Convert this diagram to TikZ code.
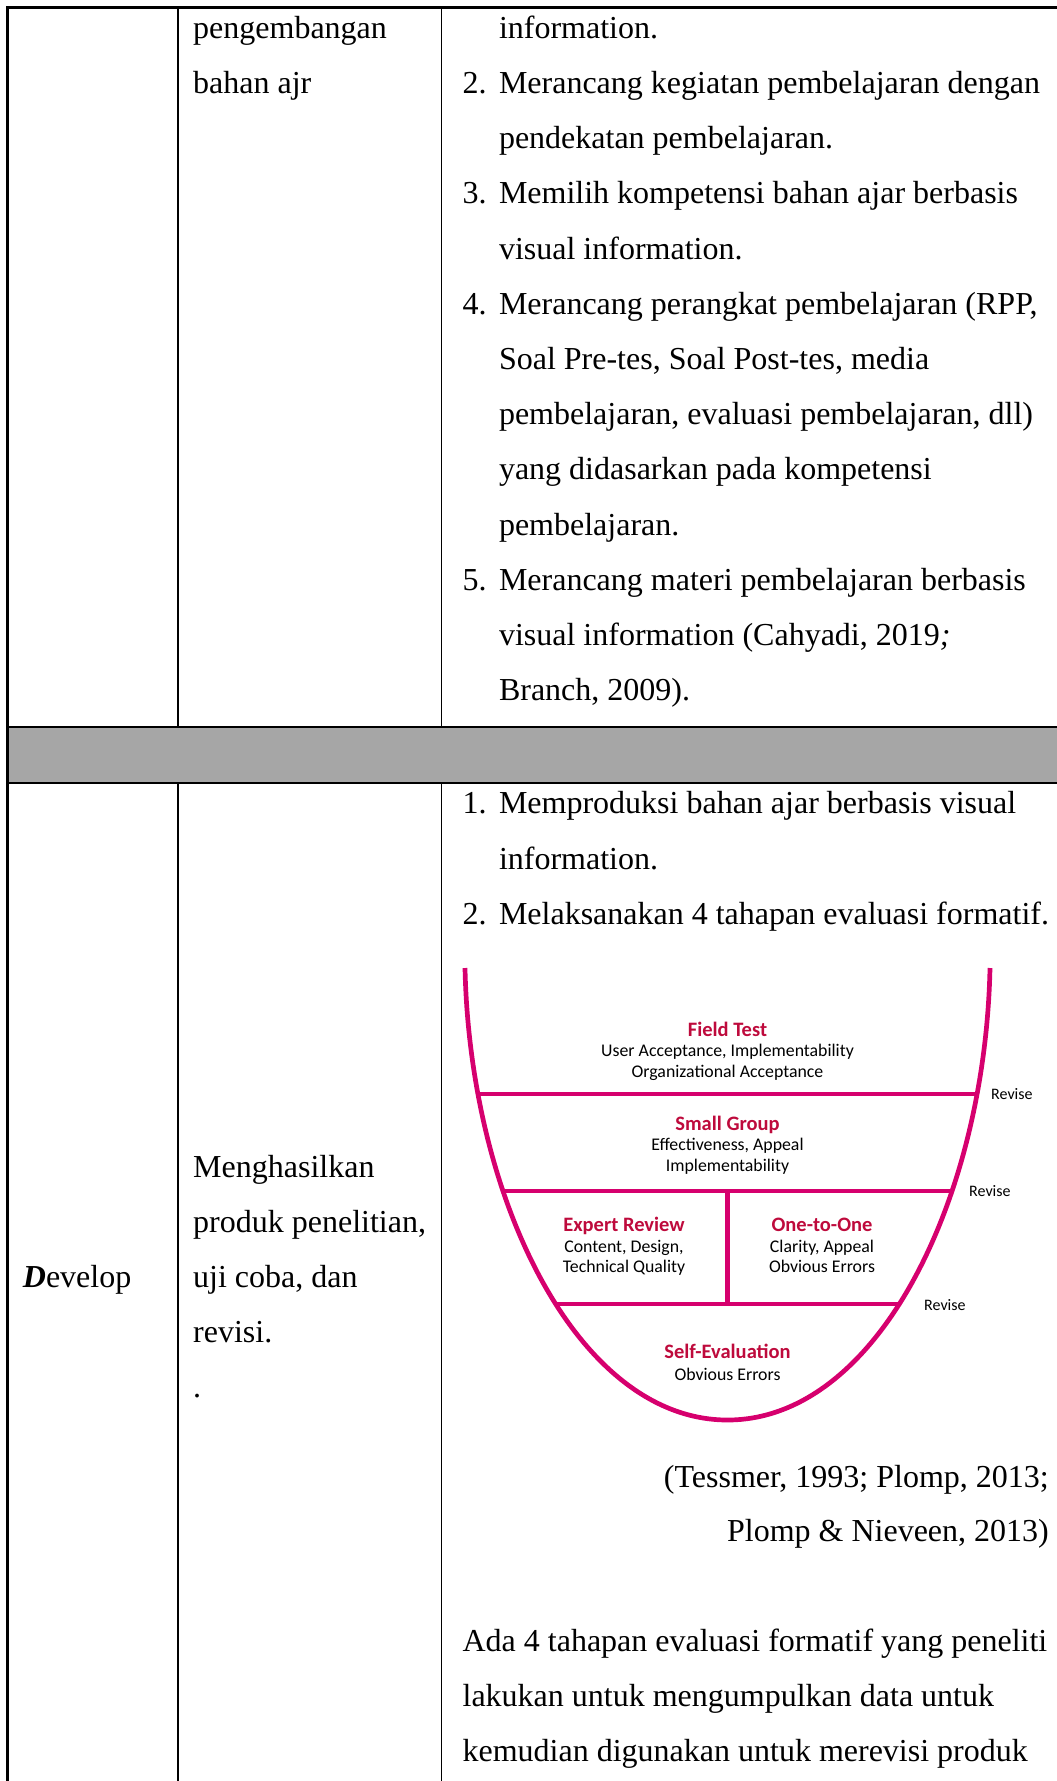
\documentclass[tikz,border=0pt]{standalone}
\usepackage{fontspec}
\setmainfont{Liberation Serif}
\newfontfamily\dfont{Carlito}
\definecolor{upink}{RGB}{214,0,110}
\definecolor{utitlec}{RGB}{190,10,60}
\definecolor{grayrow}{RGB}{166,166,166}
\begin{document}
\begin{tikzpicture}[x=1pt,y=-1pt,
  rule/.style={line width=2.4pt,black},
  coll/.style={line width=1.8pt,black},
  body/.style={anchor=base west,inner sep=0pt,font=\fontsize{32}{38}\selectfont},
  bodyr/.style={anchor=base east,inner sep=0pt,font=\fontsize{32}{38}\selectfont},
  utitle/.style={anchor=base,inner sep=0pt,text=utitlec,font=\dfont\bfseries\fontsize{20.5}{24}\selectfont},
  usub/.style={anchor=base,inner sep=0pt,font=\dfont\fontsize{17.8}{20}\selectfont},
  urev/.style={anchor=base west,inner sep=0pt,font=\dfont\fontsize{16}{19}\selectfont},
  uline/.style={line width=4.7pt,upink}]
\useasboundingbox (0,0) rectangle (1057,1781);
% table
\fill[grayrow] (7.5,727) rectangle (1057,783);
\draw[rule] (6.3,7.5) -- (1057,7.5);
\draw[rule] (7.5,7.5) -- (7.5,1781);
\draw[rule] (7.5,727) -- (1057,727);
\draw[rule] (7.5,783) -- (1057,783);
\draw[coll] (177.7,7.5) -- (177.7,727) (177.7,783) -- (177.7,1781);
\draw[coll] (441.5,7.5) -- (441.5,727) (441.5,783) -- (441.5,1781);
% column 2
\node[body] (c2a) at (193,38.3) {pengembangan};
\node[body] (c2b) at (193,93.5) {bahan ajr};
\node[body] (c2c) at (193,1177) {Menghasilkan};
\node[body] (c2d) at (193,1232.2) {produk penelitian,};
\node[body] (c2e) at (193,1287.4) {uji coba, dan};
\node[body] (c2f) at (193,1342.6) {revisi.};
\node[body] (c2g) at (193,1397.8) {.};
% column 1
\node[body] (dev) at (22.7,1287.4) {{\bfseries\itshape D}evelop};
% column 3 top
\node[body] (t0) at (498.8,38.3) {information.};
\node[body] (n2) at (462.4,93.5) {2.};
\node[body] (t1) at (498.8,93.5) {Merancang kegiatan pembelajaran dengan};
\node[body] (t2) at (498.8,148.7) {pendekatan pembelajaran.};
\node[body] (n3) at (462.4,203.9) {3.};
\node[body] (t3) at (498.8,203.9) {Memilih kompetensi bahan ajar berbasis};
\node[body] (t4) at (498.8,259.1) {visual information.};
\node[body] (n4) at (462.4,314.3) {4.};
\node[body] (t5) at (498.8,314.3) {Merancang perangkat pembelajaran (RPP,};
\node[body] (t6) at (498.8,369.5) {Soal Pre-tes, Soal Post-tes, media};
\node[body] (t7) at (498.8,424.7) {pembelajaran, evaluasi pembelajaran, dll)};
\node[body] (t8) at (498.8,479.9) {yang didasarkan pada kompetensi};
\node[body] (t9) at (498.8,535.1) {pembelajaran.};
\node[body] (n5) at (462.4,590.3) {5.};
\node[body] (t10) at (498.8,590.3) {Merancang materi pembelajaran berbasis};
\node[body] (t11) at (498.8,645.5) {visual information (Cahyadi, 2019\textit{;}};
\node[body] (t12) at (498.8,700.7) {Branch, 2009).};
% column 3 develop
\node[body] (dn1) at (462.4,813.8) {1.};
\node[body] (d1) at (498.8,813.8) {Memproduksi bahan ajar berbasis visual};
\node[body] (d2) at (498.8,869) {information.};
\node[body] (dn2) at (462.4,924.2) {2.};
\node[body] (d3) at (498.8,924.2) {Melaksanakan 4 tahapan evaluasi formatif.};
\node[bodyr] (cit1) at (1049,1487) {(Tessmer, 1993; Plomp, 2013;};
\node[bodyr] (cit2) at (1049,1541.7) {Plomp \& Nieveen, 2013)};
\node[body] (p1) at (462.4,1651.7) {Ada 4 tahapan evaluasi formatif yang peneliti};
\node[body] (p2) at (462.4,1706.7) {lakukan untuk mengumpulkan data untuk};
\node[body] (p3) at (462.4,1761.7) {kemudian digunakan untuk merevisi produk};
% U diagram
\begin{scope}
\clip (465,968) .. controls (470,1200) and (578,1420) .. (727.5,1420) .. controls (877,1420) and (985,1200) .. (990,968) -- cycle;
\draw[uline] (400,1094) -- (1060,1094);
\draw[uline] (400,1191) -- (1060,1191);
\draw[uline] (400,1304) -- (1060,1304);
\draw[uline] (727.5,1191) -- (727.5,1304);
\end{scope}
\draw[uline] (465,968) .. controls (470,1200) and (578,1420) .. (727.5,1420) .. controls (877,1420) and (985,1200) .. (990,968);
\node[utitle] (ft) at (727.5,1036) {Field Test};
\node[usub] (ft1) at (727.5,1056.5) {User Acceptance, Implementability};
\node[usub] (ft2) at (727.5,1077.3) {Organizational Acceptance};
\node[utitle] (sg) at (727.5,1130) {Small Group};
\node[usub] (sg1) at (727.5,1150.5) {Effectiveness, Appeal};
\node[usub] (sg2) at (727.5,1171.5) {Implementability};
\node[utitle] (er) at (624,1231) {Expert Review};
\node[usub] (er1) at (624,1252) {Content, Design,};
\node[usub] (er2) at (624,1272.7) {Technical Quality};
\node[utitle] (oo) at (822,1231) {One-to-One};
\node[usub] (oo1) at (822,1252) {Clarity, Appeal};
\node[usub] (oo2) at (822,1272.7) {Obvious Errors};
\node[utitle] (se) at (727.5,1358.3) {Self-Evaluation};
\node[usub] (se1) at (727.5,1380.7) {Obvious Errors};
\node[urev] (rv1) at (991,1099.3) {Revise};
\node[urev] (rv2) at (969,1196.7) {Revise};
\node[urev] (rv3) at (924,1310.7) {Revise};
\end{tikzpicture}
\end{document}
